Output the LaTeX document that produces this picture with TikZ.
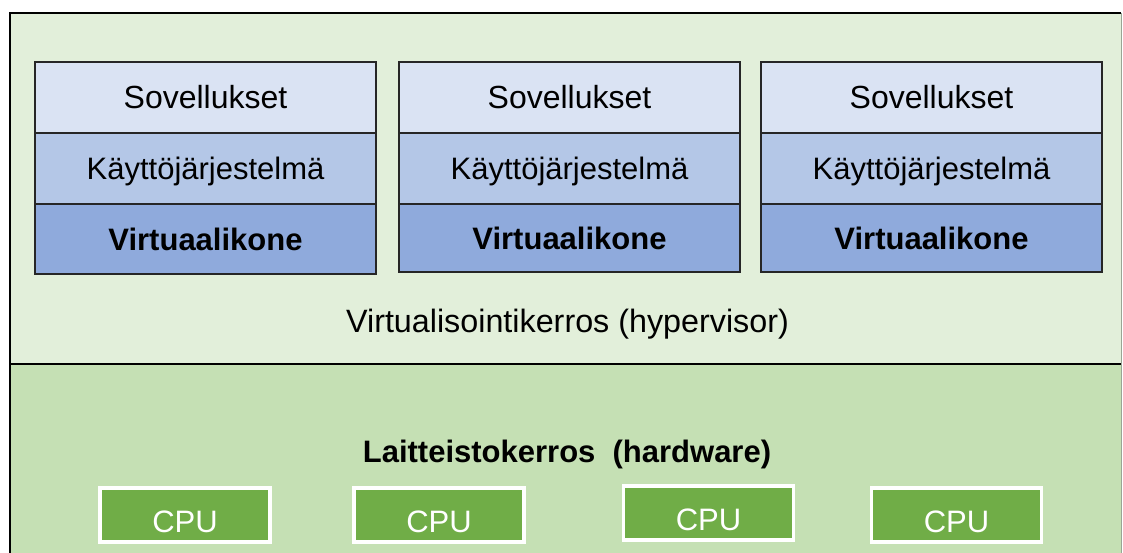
\documentclass[tikz,border=0pt]{standalone}
\usepackage{fontspec}
\setmainfont{Liberation Sans}
\definecolor{hyperfill}{HTML}{E2EFDA}
\definecolor{hwfill}{HTML}{C5E0B4}
\definecolor{appfill}{HTML}{DAE3F3}
\definecolor{osfill}{HTML}{B4C7E7}
\definecolor{vmfill}{HTML}{8FAADC}
\definecolor{cpufill}{HTML}{70AD47}
\definecolor{edgegrey}{HTML}{9AA595}
\tikzset{
  big/.style={font=\fontsize{31}{36}\selectfont},
  layer/.style={inner sep=0pt, outer sep=0pt, anchor=north west},
  cell/.style={big, draw=black!85, line width=1.3pt, inner sep=0pt, outer sep=0pt,
    anchor=north west, minimum width=341pt, text height=22pt, text depth=0pt},
  cpubox/.style={big, draw=white, line width=3.5pt, fill=cpufill, text=white,
    inner sep=0pt, minimum width=170pt, minimum height=54pt,
    text height=34pt, text depth=0pt},
  frame/.style={line width=2pt, black},
}
\begin{document}
\begin{tikzpicture}[x=1pt,y=-1pt]
\useasboundingbox (0,0) rectangle (1123,552);
\clip (0,0) rectangle (1123,552);
\fill[white] (0,0) rectangle (1123,552);

% the two layers
\node[layer, fill=hyperfill, minimum width=1111pt, minimum height=351pt] (hyp) at (10,13) {};
\node[layer, fill=hwfill, minimum width=1111pt, minimum height=200pt] (hw) at (10,364) {};

% layer outlines
\draw[frame] (hw.south west) -- (hyp.north west) -- (hyp.north east);
\draw[frame] (hyp.south west) -- (hyp.south east);
\draw[edgegrey, line width=1pt] (hyp.north east) -- (hw.south east);

% virtual machine stacks
\foreach \x/\n/\h in {35/1/70, 399/2/68, 761/3/68} {
  \node[cell, fill=appfill, minimum height=71pt, font=\fontsize{32}{36}\selectfont] (app\n) at (\x,62) {Sovellukset};
  \node[cell, fill=osfill, minimum height=71pt] (os\n) at (\x,133) {Käyttöjärjestelmä};
  \node[cell, fill=vmfill, minimum height=\h pt, font=\fontsize{31}{36}\selectfont\bfseries] (vm\n) at (\x,204) {Virtuaalikone};
}

% layer captions
\node[anchor=base, font=\fontsize{32.3}{36}\selectfont] (hyplabel) at (567.5,332) {Virtualisointikerros (hypervisor)};
\node[anchor=base, font=\fontsize{31}{36}\selectfont\bfseries] (hwlabel) at (567,462) {Laitteistokerros\ \ (hardware)};

% processors
\node[cpubox] (cpu1) at (185,515) {CPU};
\node[cpubox] (cpu2) at (439,515) {CPU};
\node[cpubox] (cpu3) at (708.5,513) {CPU};
\node[cpubox] (cpu4) at (956.5,515) {CPU};
\end{tikzpicture}
\end{document}
